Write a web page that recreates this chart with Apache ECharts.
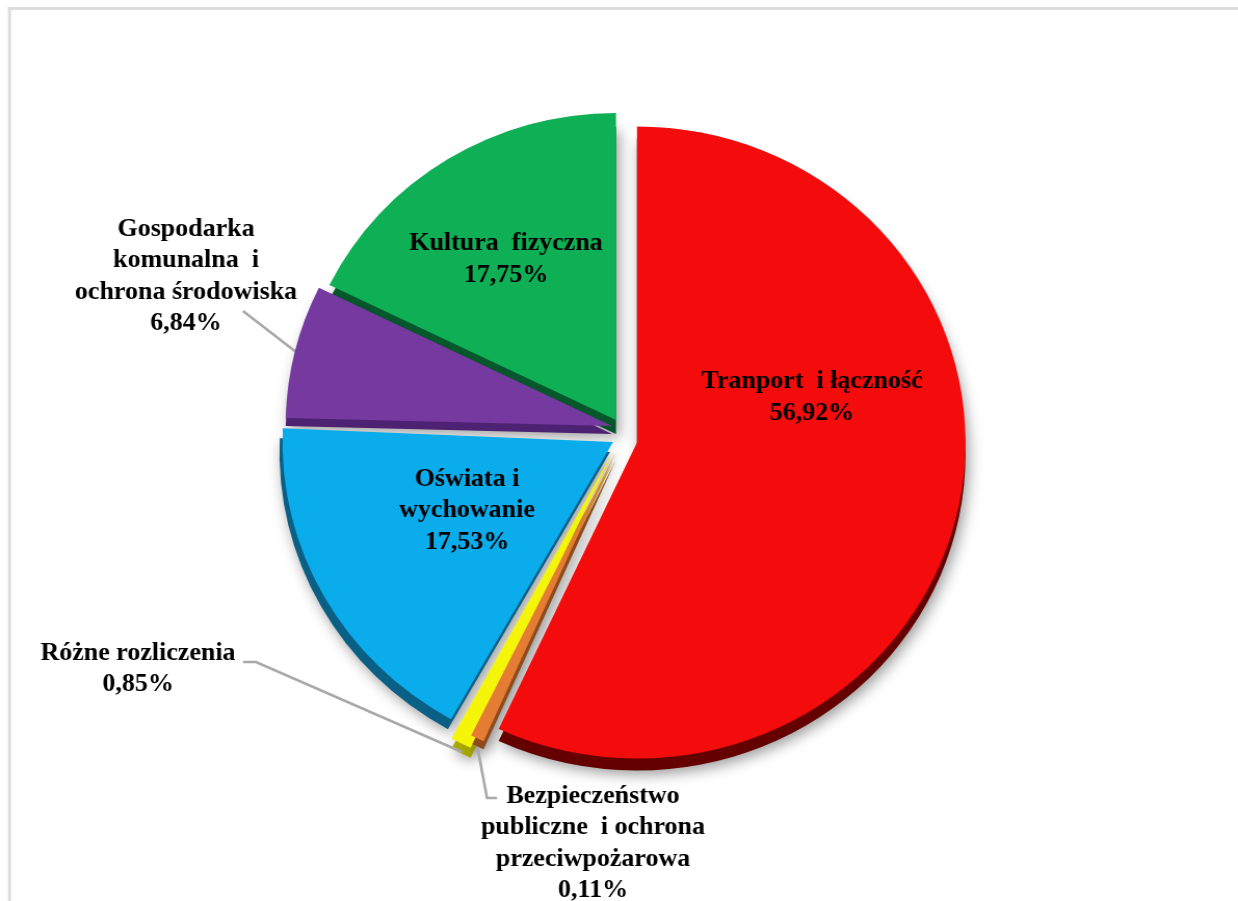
<!DOCTYPE html>
<html><head><meta charset="utf-8">
<style>html,body{margin:0;padding:0;background:#fff;overflow:hidden}
#c{width:1191px;height:901px;transform:scaleX(1.03946);transform-origin:0 0}</style>
<script src="https://cdn.jsdelivr.net/npm/echarts@6/dist/echarts.min.js"></script>
</head><body><div id="c"></div>
<script>
const categories = ['Tranport  i łączność','Bezpieczeństwo\npubliczne  i ochrona\nprzeciwpożarowa','Różne rozliczenia','Oświata i\nwychowanie','Gospodarka\nkomunalna  i\nochrona środowiska','Kultura  fizyczna'];
const values = [56.92,0.11,0.85,17.53,6.84,17.75];
const valueLabels = ['56,92%','0,11%','0,85%','17,53%','6,84%','17,75%'];
const faceColors = ['#F40B0B','#E57C33','#F5F50A','#0BACEC','#7539A0','#0FAF56'];
const sideColors = ['#640000','#8F4A1C','#A8A800','#0A5F85','#4E2272','#07582C'];
const sx = 1238/1191;
// per-slice drawing layout in screen pixels
const centres = [[637,442.5],[616,452],[613,452],[613,442],[612,426],[616,420]];
const radii = [316,316,326,318,314,307];
const depths = [12,8,10,10,8,14];
const sideShiftX = [0,0,0,-3,0,0];
const minAngles = [0,2.4,3.6,0,0,0];
const startAngles = [90,90,91.5,89,90,90];
const labelPos = [[812,397.5],[593,843.5],[138,669],[467,511],[186,276.5],[506,259.5]];
const leaders = {
  1:[[497,798],[487,798],[478,750]],
  2:[[243,662],[256,662],[462,752]],
  4:[[243,311],[296,352]]
};
function pie(i, isTop){
  const data = categories.map((n,k)=>({
    name:n, value:values[k],
    itemStyle: k===i
      ? (isTop ? {color:faceColors[k]}
               : {color:sideColors[k],shadowBlur:14,shadowColor:'rgba(0,0,0,0.4)',shadowOffsetY:4,shadowOffsetX:3})
      : {color:'rgba(0,0,0,0)'},
    label:{show:isTop&&k===i},
    labelLine:{show:isTop&&k===i&&leaders[k]!==undefined,lineStyle:{color:'#A9A9A9',width:2.6}},
    tooltip:{show:false}
  }));
  return {
    type:'pie', silent:true, animation:false, startAngle:startAngles[i], clockwise:true,
    minAngle:minAngles[i], avoidLabelOverlap:false,
    radius:[0,radii[i]],
    center:[(centres[i][0]+(isTop?0:sideShiftX[i]))/sx, centres[i][1]+(isTop?0:depths[i])],
    z:isTop?3:2,
    data,
    label:{position:leaders[i]?'outside':'inside',align:'center',
      formatter:p=>p.name+'\n'+valueLabels[p.dataIndex],
      fontFamily:'Liberation Serif',fontWeight:'bold',fontSize:25,lineHeight:31.5,color:'#000'},
    labelLayout:p=>{
      const o={x:labelPos[p.dataIndex][0]/sx,y:labelPos[p.dataIndex][1],align:'center',verticalAlign:'middle'};
      const l=leaders[p.dataIndex];
      if(l)o.labelLinePoints=l.map(q=>[q[0]/sx,q[1]]);
      return o;
    }
  };
}
const series=[];
[5,4,3,2,1,0].forEach(i=>series.push(pie(i,false)));
[5,4,3,2,1,0].forEach(i=>series.push(pie(i,true)));
const chart=echarts.init(document.getElementById('c'),null,{renderer:'canvas'});
chart.setOption({
  backgroundColor:'#fff',animation:false,
  graphic:[
    {type:'rect',shape:{x:8/sx,y:7,width:1230/sx,height:3},style:{fill:'#DCDCDC'},silent:true},
    {type:'rect',shape:{x:8/sx,y:7,width:3/sx,height:894},style:{fill:'#DCDCDC'},silent:true}
  ],
  series
});
</script></body></html>
